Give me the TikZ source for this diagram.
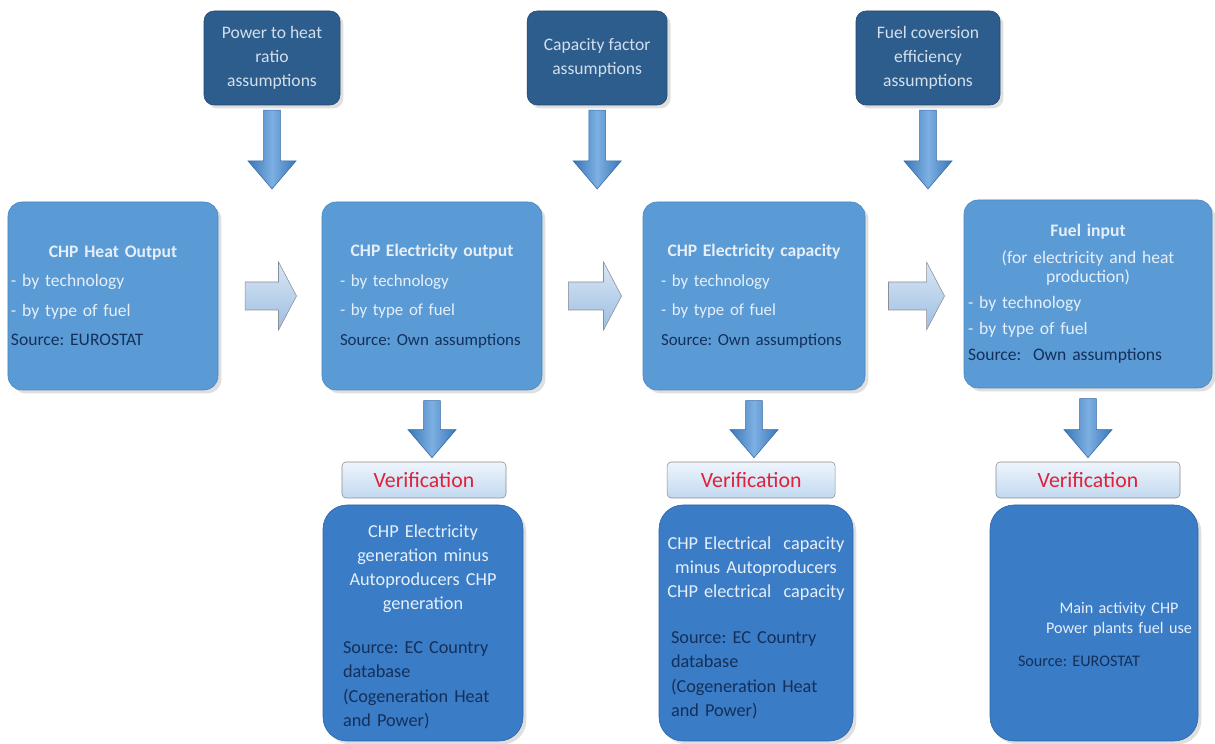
\documentclass[tikz,border=0pt]{standalone}
\usepackage{fontspec}
\setmainfont{Carlito}
\usepackage{tikz}
\usepackage{xcolor}
\usetikzlibrary{calc}
\usetikzlibrary{shadows}
\frenchspacing
\hyphenpenalty=10000
\exhyphenpenalty=10000
\definecolor{topblue}{HTML}{2D5D8C}
\definecolor{topline}{HTML}{1F4670}
\definecolor{toptxt}{HTML}{D3DFEC}
\definecolor{mainblue}{HTML}{5B9BD5}
\definecolor{mainline}{HTML}{4A86C0}
\definecolor{lowblue}{HTML}{3A7CC6}
\definecolor{lowline}{HTML}{2C64A5}
\definecolor{paletxt}{HTML}{E6EFF9}
\definecolor{srcnavy}{HTML}{14305A}
\definecolor{verred}{HTML}{E0213A}
\definecolor{vertop}{HTML}{EEF5FC}
\definecolor{verbot}{HTML}{C2D9F0}
\definecolor{verline}{HTML}{8C8C8C}
\definecolor{arrdark}{HTML}{3A76B9}
\definecolor{arrlight}{HTML}{7DB0E2}
\definecolor{arrline}{HTML}{3469A6}
\definecolor{sidetop}{HTML}{D9E6F5}
\definecolor{sidebot}{HTML}{9DBEE2}
\definecolor{sideline}{HTML}{8A8F96}
\tikzset{assumption/.style={draw=topline, fill=topblue, rounded corners=2.5mm, text=toptxt,
  align=center, inner sep=0pt, minimum height=2.35cm, font=\fontsize{12.5}{17}\selectfont,
  drop shadow={opacity=.25}},
 stage/.style={draw=mainline, fill=mainblue, rounded corners=3.5mm, align=left, inner sep=0pt,
  minimum height=4.7cm, text=paletxt, font=\fontsize{12.5}{21}\selectfont,
  drop shadow={opacity=.25}},
 verif/.style={draw=verline, top color=vertop, bottom color=verbot, rounded corners=1mm,
  text=verred, minimum height=0.9cm, inner sep=0pt, font=\fontsize{15.5}{18}\selectfont},
 check/.style={draw=lowline, fill=lowblue, rounded corners=6mm, align=left, inner sep=0pt,
  minimum height=5.9cm, text=paletxt, font=\fontsize{13}{17.2}\selectfont,
  drop shadow={opacity=.25}},
 downarr/.style={draw=arrline, left color=arrdark, right color=arrdark, middle color=arrlight,
  to path={($(\tikztostart)+(-2.1mm,0)$) -- ($(\tikztotarget)+(-2.1mm,7mm)$)
   -- ($(\tikztotarget)+(-6mm,7mm)$) -- (\tikztotarget) -- ($(\tikztotarget)+(6mm,7mm)$)
   -- ($(\tikztotarget)+(2.1mm,7mm)$) -- ($(\tikztostart)+(2.1mm,0)$) -- cycle}},
 sidearr/.style={draw=sideline, top color=sidetop, bottom color=sidebot,
  to path={($(\tikztostart)+(0,3.5mm)$) -- ($(\tikztotarget)+(-4.5mm,3.5mm)$)
   -- ($(\tikztotarget)+(-4.5mm,8.5mm)$) -- (\tikztotarget) -- ($(\tikztotarget)+(-4.5mm,-8.5mm)$)
   -- ($(\tikztotarget)+(-4.5mm,-3.5mm)$) -- ($(\tikztostart)+(0,-3.5mm)$) -- cycle}},
 }

\begin{document}
\begin{tikzpicture}
        \path[use as bounding box, fill=white] (0,0) rectangle (30.375,18.6);
        \node[assumption, minimum width=3.4cm] (pth) at (6.8,17.15) {Power to heat\\ ratio\\ assumptions};
        \node[assumption, minimum width=3.5cm] (cfa) at (14.93,17.15) {Capacity factor\\ assumptions};
        \node[assumption, minimum width=3.6cm] (fce) at (23.2,17.15) {Fuel coversion\\ efficiency\\ assumptions};
        \node[stage, minimum width=5.25cm, text width=5.1cm] (heat) at (2.825,11.2)
            {{\centering\bfseries CHP Heat Output\par}- by technology\\ - by type of fuel\\
             \color{srcnavy}Source: EUROSTAT};
        \node[stage, minimum width=5.5cm, text width=4.6cm, font=\fontsize{12}{21}\selectfont] (elec) at (10.8,11.2)
            {{\centering\bfseries\fontsize{12.5}{21}\selectfont CHP Electricity output\par}- by technology\\ - by type of fuel\\
             \color{srcnavy}Source: Own assumptions};
        \node[stage, minimum width=5.55cm, text width=4.65cm, font=\fontsize{12}{21}\selectfont] (cap) at (18.85,11.2)
            {{\centering\bfseries\fontsize{12.5}{21}\selectfont CHP Electricity capacity\par}- by technology\\ - by type of fuel\\
             \color{srcnavy}Source: Own assumptions};
        \node[stage, minimum width=6.2cm, text width=6cm, font=\fontsize{12.5}{18.5}\selectfont] (fuel) at (27.2,11.25)
            {{\centering\bfseries Fuel input\par}\vspace{5pt}
             {\centering\fontsize{12.5}{14}\selectfont (for electricity and heat\\ production)\par}
             - by technology\\ - by type of fuel\\ \color{srcnavy}Source:~ Own assumptions};
        \node[verif, minimum width=4.1cm] (ver1) at (10.6,6.6) {Verification};
        \node[verif, minimum width=4.2cm] (ver2) at (18.78,6.6) {Verification};
        \node[verif, minimum width=4.6cm] (ver3) at (27.2,6.6) {Verification};
        \node[check, minimum width=5cm, text width=4cm] (db1) at (10.575,3.025)
            {{\centering\rule{0pt}{5mm}CHP Electricity\\ generation minus\\ Autoproducers CHP\\ generation\par}\vspace{5mm}
             \color{srcnavy}Source: EC Country\\ database\\ (Cogeneration Heat\\ and Power)};
        \node[check, minimum width=4.85cm, text width=4.75cm] (db2) at (18.9,3.025)
            {{\centering\rule{0pt}{5.5mm}CHP Electrical~ capacity\\ minus Autoproducers\\ CHP electrical~ capacity\par}\vspace{5.5mm}
             \color{srcnavy}\hspace*{0.25cm}Source: EC Country\\ \hspace*{0.25cm}database\\
             \hspace*{0.25cm}(Cogeneration Heat\\ \hspace*{0.25cm}and Power)};
        \node[check, minimum width=5.2cm, text width=5.1cm, font=\fontsize{11.5}{14.5}\selectfont] (db3) at (27.35,3.025)
            {{\leftskip=1.25cm plus 1fil \rightskip=0pt plus 1fil \parfillskip=0pt
              \rule{0pt}{8.5mm}Main activity CHP\\ Power plants fuel use\par}\vspace{3mm}
             \hspace*{0.65cm}\color{srcnavy}Source: EUROSTAT};
        \draw[downarr] ($(pth.south)+(0,-1.2mm)$) to ($(pth.south |- heat.north)+(0,3.2mm)$);
        \draw[downarr] ($(cfa.south)+(0,-1.2mm)$) to ($(cfa.south |- heat.north)+(0,3.2mm)$);
        \draw[downarr] ($(fce.south)+(0,-1.2mm)$) to ($(fce.south |- heat.north)+(0,3.2mm)$);
        \draw[downarr] ($(elec.south)+(0,-2.6mm)$) to ($(elec.south |- ver1.north)+(0,1mm)$);
        \draw[downarr] ($(cap.south)+(0,-2.6mm)$) to ($(cap.south |- ver2.north)+(0,1mm)$);
        \draw[downarr] ($(fuel.south)+(0,-2.6mm)$) to ($(fuel.south |- ver3.north)+(0,1mm)$);
        \draw[sidearr] ($(heat.east)+(6.7mm,0)$) to ($(elec.west)+(-6.3mm,0)$);
        \draw[sidearr] ($(elec.east)+(6.5mm,0)$) to ($(cap.west)+(-5.3mm,0)$);
        \draw[sidearr] ($(cap.east)+(5.8mm,0)$) to ($(cap.east -| fuel.west)+(-4.8mm,0)$);
\end{tikzpicture}
\end{document}
